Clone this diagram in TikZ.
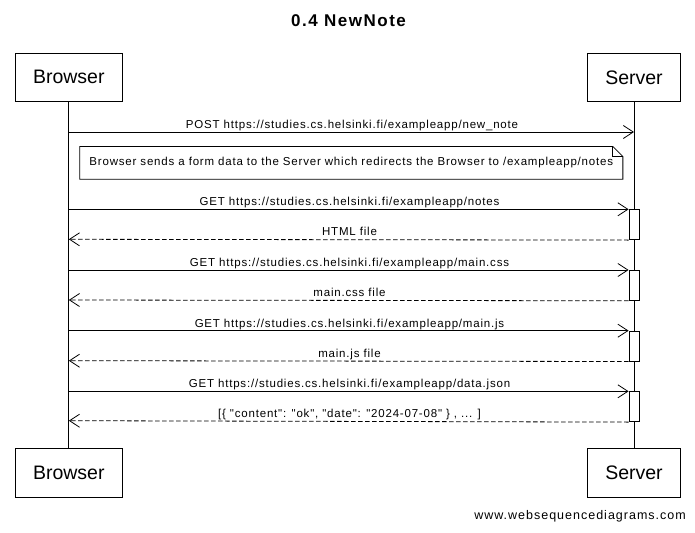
\documentclass[tikz,border=0pt]{standalone}
\usepackage{fontspec}
\setmainfont{Liberation Sans}
\newfontfamily\widesans[LetterSpace=7]{Liberation Sans}
\newfontfamily\widertitle[LetterSpace=9]{Liberation Sans}
\newfontfamily\widefoot[LetterSpace=8]{Liberation Sans}
\usetikzlibrary{arrows.meta}
\begin{document}
\begin{tikzpicture}[x=1pt,y=-1pt,
  participant/.style={draw, line width=0.8pt, minimum height=48.5pt, inner sep=0pt,
    font=\fontsize{19.5}{22}\selectfont},
  lifeline/.style={line width=0.8pt},
  msg/.style={line width=0.8pt, -{Straight Barb[length=10pt,width=13pt,line width=0.8pt]}},
  ret/.style={msg, dash pattern=on 4.5pt off 2.5pt},
  lbl/.style={font=\widesans\fontsize{11.5}{13}\selectfont, anchor=base, inner sep=0pt},
  act/.style={draw, fill=white, line width=0.8pt, minimum width=10pt, minimum height=30pt, inner sep=0pt, anchor=north},
  notebox/.style={minimum width=542.7pt, minimum height=32.3pt, inner sep=0pt,
    font=\widesans\fontsize{11.5}{13}\selectfont}
]
\useasboundingbox (0,0) rectangle (695,532);

% title
\node[font=\widertitle\fontsize{17}{20}\bfseries] (title) at (348.5,21) {0.4 NewNote};

% participants
\node[participant, minimum width=107.5pt] (btop) at (68.8,77.3) {Browser};
\node[participant, minimum width=93.5pt] (stop) at (634,77.3) {Server};
\node[participant, minimum width=107.5pt] (bbot) at (68.8,472.8) {Browser};
\node[participant, minimum width=93.5pt] (sbot) at (634,472.8) {Server};

% lifelines
\draw[lifeline] (btop.south) -- (bbot.north);
\draw[lifeline] (stop.south) -- (sbot.north);

% lifeline coordinates
\coordinate (b1) at (68.8,132);
\coordinate (s1) at (634,132);
\coordinate (b2) at (68.8,209.3);
\coordinate (b3) at (68.8,239.3);
\coordinate (b4) at (68.8,270);
\coordinate (b5) at (68.8,300);
\coordinate (b6) at (68.8,330.7);
\coordinate (b7) at (68.8,360.7);
\coordinate (b8) at (68.8,391.3);
\coordinate (b9) at (68.8,420.7);

% activations
\node[act] (a1) at (634,209.3) {};
\node[act] (a2) at (634,270) {};
\node[act] (a3) at (634,330.7) {};
\node[act] (a4) at (634,391.3) {};

% POST
\draw[msg] (b1) -- (s1);
\node[lbl] (l1) at (352,128.5) {POST https://studies.cs.helsinki.fi/exampleapp/new\_note};

% note
\node[notebox] (note) at (351.3,162.8) {Browser sends a form data to the Server which redirects the Browser to /exampleapp/notes};
\draw[line width=0.8pt] (note.north west) -- ([xshift=-10pt]note.north east)
  -- ([yshift=-10pt]note.north east) -- (note.south east) -- (note.south west) -- cycle;
\draw[line width=0.8pt] ([xshift=-10pt]note.north east) -- ([xshift=-10pt,yshift=-10pt]note.north east)
  -- ([yshift=-10pt]note.north east);

% GET notes
\draw[msg] (b2) -- (a1.north west);
\node[lbl] (l2) at (349.5,205.8) {GET https://studies.cs.helsinki.fi/exampleapp/notes};
\draw[ret] (a1.south west) -- (b3);
\node[lbl] (l3) at (349.5,235.8) {HTML file};

% GET main.css
\draw[msg] (b4) -- (a2.north west);
\node[lbl] (l4) at (349.5,266.5) {GET https://studies.cs.helsinki.fi/exampleapp/main.css};
\draw[ret] (a2.south west) -- (b5);
\node[lbl] (l5) at (349.5,296.5) {main.css file};

% GET main.js
\draw[msg] (b6) -- (a3.north west);
\node[lbl] (l6) at (349.5,327.2) {GET https://studies.cs.helsinki.fi/exampleapp/main.js};
\draw[ret] (a3.south west) -- (b7);
\node[lbl] (l7) at (349.5,357.2) {main.js file};

% GET data.json
\draw[msg] (b8) -- (a4.north west);
\node[lbl] (l8) at (349.5,387.8) {GET https://studies.cs.helsinki.fi/exampleapp/data.json};
\draw[ret] (a4.south west) -- (b9);
\node[lbl] (l9) at (349.5,417.2) {[\{ "content": "ok", "date": "2024-07-08" \} , ... ]};

% footer
\node[font=\widefoot\fontsize{12.5}{14}\selectfont, anchor=east, inner sep=0pt] (footer) at (686,516) {www.websequencediagrams.com};
\end{tikzpicture}
\end{document}
